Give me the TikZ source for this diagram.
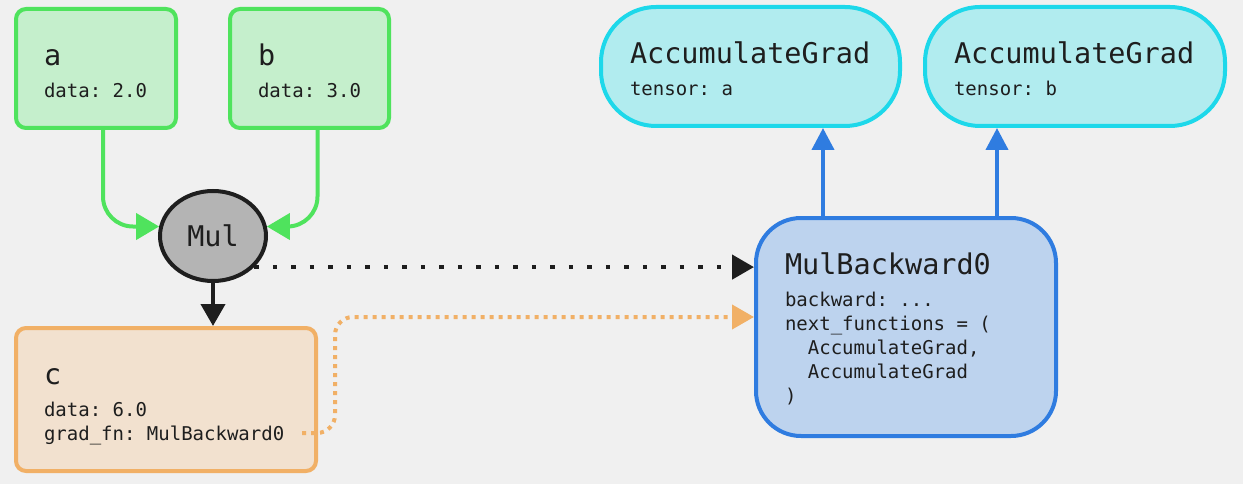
\documentclass[tikz,border=0pt]{standalone}
\usepackage{fontspec}
\setmonofont{DejaVu Sans Mono}
\usetikzlibrary{shapes.geometric,arrows.meta}
\definecolor{bgcol}{HTML}{F0F0F0}
\definecolor{ink}{HTML}{1E1E1E}
\definecolor{leaffill}{HTML}{C5EFCC}
\definecolor{leafline}{HTML}{4FE35D}
\definecolor{mulfill}{HTML}{B4B4B4}
\definecolor{outfill}{HTML}{F2E1CF}
\definecolor{outline}{HTML}{F1B066}
\definecolor{fnfill}{HTML}{BDD3EE}
\definecolor{fnline}{HTML}{2F7CE0}
\definecolor{accfill}{HTML}{B1ECEF}
\definecolor{accline}{HTML}{1DD8EA}
\newcommand\headfont{\fontsize{28.5}{32}\selectfont}
\newcommand\bodyfont{\ttfamily\fontsize{19}{24}\selectfont}
\newcommand\boxtext[3]{\parbox[t]{#1}{\raggedright{\headfont #2}\\[8pt]#3}}
\begin{document}
\begin{tikzpicture}[x=1pt,y=-1pt,
  box/.style={line width=4pt,rounded corners=10pt,inner xsep=28pt,inner ysep=0pt,text height=56.5pt,text=ink,font=\bodyfont},
  leaf/.style={box,draw=leafline,fill=leaffill,text depth=62.5pt},
  result/.style={box,draw=outline,fill=outfill,text depth=86.5pt},
  gradfn/.style={box,draw=fnline,fill=fnfill,inner xsep=29pt,text depth=161.5pt,rounded corners=45pt},
  accgrad/.style={box,draw=accline,fill=accfill,inner xsep=29pt,text depth=62.5pt,rounded corners=55pt},
  mulop/.style={ellipse,draw=ink,fill=mulfill,line width=4pt,minimum width=106pt,minimum height=90pt,inner sep=0pt,text=ink,font=\ttfamily\headfont},
  feed/.style={draw=leafline,line width=4pt,rounded corners=30pt,-{Triangle[length=23pt,width=26pt]}},
  fwd/.style={draw=ink,line width=4pt,-{Triangle[length=22pt,width=24pt]}},
  link/.style={draw=ink,line width=4.5pt,dash pattern=on 4.5pt off 14pt,-{Triangle[length=22pt,width=24pt]}},
  gradlink/.style={draw=outline,line width=4pt,dash pattern=on 4pt off 5pt,rounded corners=18pt,-{Triangle[length=22pt,width=24pt]}},
  nextfn/.style={draw=fnline,line width=4pt,-{Triangle[length=22pt,width=22pt]}}]
\useasboundingbox (0,0) rectangle (1243,484);
\fill[bgcol] (0,0) rectangle (1243,484);

\node[leaf] (a) at (96,68.5) {\boxtext{104pt}{a}{data: 2.0}};
\node[leaf] (b) at (309.5,68.5) {\boxtext{103pt}{b}{data: 3.0}};
\node[mulop] (mul) at (213,236) {Mul};
\node[result] (c) at (166,399.5) {\boxtext{244pt}{c}{data: 6.0\\grad\_fn: MulBackward0}};
\node[gradfn] (mbw) at (906,327) {\boxtext{242pt}{MulBackward0}{backward: ...\\next\_functions = (\\\hphantom{ab}AccumulateGrad,\\\hphantom{ab}AccumulateGrad\\)}};
\node[accgrad] (acca) at (750.5,66.5) {\boxtext{241pt}{AccumulateGrad}{tensor: a}};
\node[accgrad] (accb) at (1075,66.5) {\boxtext{242pt}{AccumulateGrad}{tensor: b}};
\coordinate (gfn) at (302,433);

\draw[feed] ([xshift=7pt]a.south) |- (mul.170);
\draw[feed] ([xshift=8pt]b.south) |- (mul.10);
\draw[fwd] (mul.south) -- (mul.south |- c.north);
\draw[link] (mul.-37) -- (mul.-37 -| mbw.west);
\draw[gradlink] (gfn) -- ++(33,0) |- ([yshift=10pt]mbw.west);
\draw[nextfn] ([xshift=-83pt]mbw.north) -- ([xshift=-83pt]mbw.north |- acca.south);
\draw[nextfn] ([xshift=91pt]mbw.north) -- ([xshift=91pt]mbw.north |- accb.south);
\end{tikzpicture}
\end{document}
